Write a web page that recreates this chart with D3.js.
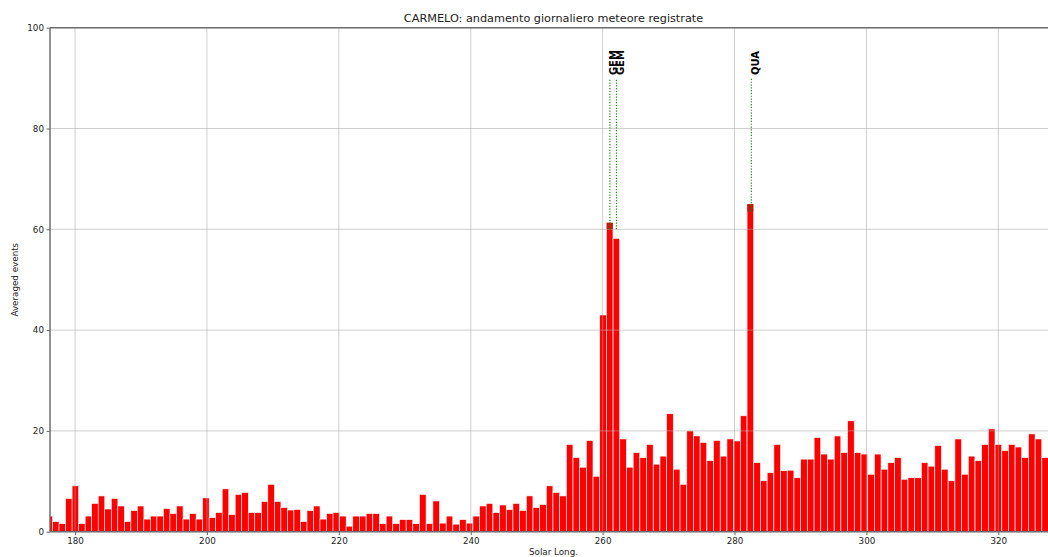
<!DOCTYPE html>
<html>
<head>
<meta charset="utf-8">
<script src="https://cdn.jsdelivr.net/npm/d3@7"></script>
<style>
  body { margin: 0; background: #fff; }
  svg { display: block; font-family: "DejaVu Sans", sans-serif; }
</style>
</head>
<body>
<script>
// Daily solar longitude (deg) of each observation day
const solarLong = [
  176.09, 177.08, 178.07, 179.06, 180.05, 181.04, 182.03, 183.02, 184.01, 185.00,
  185.99, 186.98, 187.97, 188.96, 189.94, 190.93, 191.92, 192.91, 193.90, 194.89,
  195.88, 196.87, 197.86, 198.85, 199.84, 200.83, 201.82, 202.81, 203.80, 204.78,
  205.77, 206.76, 207.75, 208.74, 209.73, 210.72, 211.71, 212.70, 213.69, 214.68,
  215.67, 216.65, 217.64, 218.63, 219.62, 220.61, 221.60, 222.61, 223.62, 224.64,
  225.65, 226.66, 227.67, 228.68, 229.70, 230.71, 231.72, 232.73, 233.75, 234.76,
  235.77, 236.78, 237.79, 238.81, 239.82, 240.83, 241.84, 242.85, 243.87, 244.88,
  245.89, 246.90, 247.91, 248.93, 249.94, 250.95, 251.96, 252.97, 253.99, 255.00,
  256.01, 257.02, 258.04, 259.05, 260.06, 261.07, 262.09, 263.10, 264.12, 265.13,
  266.15, 267.16, 268.18, 269.20, 270.21, 271.23, 272.24, 273.26, 274.27, 275.29,
  276.31, 277.32, 278.34, 279.35, 280.37, 281.38, 282.40, 283.42, 284.43, 285.45,
  286.47, 287.48, 288.50, 289.52, 290.53, 291.55, 292.57, 293.58, 294.60, 295.62,
  296.63, 297.65, 298.67, 299.68, 300.70, 301.72, 302.74, 303.75, 304.77, 305.78,
  306.80, 307.82, 308.83, 309.85, 310.87, 311.88, 312.90, 313.92, 314.93, 315.95,
  316.97, 317.98, 319.00, 320.01, 321.03, 322.04, 323.05, 324.06, 325.08, 326.09,
  327.10
];

// Averaged events per day
const avgEvents = [
  3.1, 2.0, 1.6, 6.6, 9.1, 1.6, 3.1, 5.6, 7.1, 4.5,
  6.6, 5.1, 2.0, 4.2, 5.1, 2.5, 3.1, 3.1, 4.6, 3.6,
  5.1, 2.5, 3.6, 2.5, 6.7, 2.8, 3.8, 8.5, 3.4, 7.4,
  7.8, 3.8, 3.8, 6.0, 9.4, 6.0, 4.8, 4.3, 4.4, 2.0,
  4.2, 5.1, 2.5, 3.6, 3.8, 3.1, 1.1, 3.1, 3.1, 3.6,
  3.6, 1.6, 3.1, 1.6, 2.4, 2.4, 1.6, 7.4, 1.6, 6.1,
  1.7, 3.1, 1.5, 2.4, 1.7, 3.1, 5.1, 5.6, 3.8, 5.3,
  4.4, 5.6, 4.2, 7.1, 4.8, 5.4, 9.1, 7.8, 7.1, 17.3,
  14.7, 12.8, 18.1, 11.0, 43.0, 61.3, 58.2, 18.4, 12.8, 15.7,
  14.7, 17.3, 13.4, 15.0, 23.4, 12.4, 9.4, 20.0, 19.0, 17.7,
  14.1, 18.1, 15.0, 18.4, 18.0, 23.0, 65.0, 13.7, 10.1, 11.7,
  17.3, 12.1, 12.2, 10.7, 14.4, 14.4, 18.7, 15.4, 14.4, 19.0,
  15.7, 22.0, 15.7, 15.4, 11.4, 15.4, 12.4, 13.7, 14.7, 10.4,
  10.7, 10.7, 13.7, 13.0, 17.1, 12.4, 10.1, 18.4, 11.4, 15.0,
  14.1, 17.3, 20.4, 17.3, 16.1, 17.3, 16.8, 14.7, 19.4, 18.4,
  14.7
];

// Meteor shower markers
const showerNames = ["GEM", "GEM", "QUA"];
const showerLong = [261.1, 262.1, 282.55];
const showerLineFrom = [60, 60, 63.5];
const showerLineTo = 90;

const xTicks = [180, 200, 220, 240, 260, 280, 300, 320];
const yTicks = [0, 20, 40, 60, 80, 100];

const W = 1048, H = 557;
const plot = { left: 50, right: 1057, top: 27.7, bottom: 531.7 };

const x = d3.scaleLinear().domain([176.2, 328.9]).range([plot.left, plot.right]);
const y = d3.scaleLinear().domain([0, 100]).range([plot.bottom, plot.top]);

const svg = d3.select("body").append("svg")
  .attr("width", W).attr("height", H);

svg.append("defs").append("clipPath").attr("id", "plotClip")
  .append("rect")
  .attr("x", plot.left).attr("y", plot.top)
  .attr("width", plot.right - plot.left).attr("height", plot.bottom - plot.top);

const days = solarLong.map((l, i) => ({ l, v: avgEvents[i] }));

// Bars
const barLayer = svg.append("g").attr("clip-path", "url(#plotClip)");
barLayer.selectAll("rect.bar").data(days).join("rect")
  .attr("class", "bar")
  .attr("x", d => x(d.l - 0.5))
  .attr("width", d => x(d.l + 0.5) - x(d.l - 0.5))
  .attr("y", d => y(d.v))
  .attr("height", d => y(0) - y(d.v))
  .attr("fill", "#ff0000")
  .attr("stroke", "#ffffff")
  .attr("stroke-width", 0.6);

// Darker portion where a marker line runs over a bar top
const showers = showerNames.map((n, i) => ({
  name: n, l: showerLong[i], from: showerLineFrom[i]
}));
const overlaps = showers.map(s => {
  const d = days.reduce((a, b) => Math.abs(b.l - s.l) < Math.abs(a.l - s.l) ? b : a);
  return { d, from: s.from };
}).filter(o => o.d.v > o.from);
barLayer.selectAll("rect.cap").data(overlaps).join("rect")
  .attr("class", "cap")
  .attr("x", o => x(o.d.l - 0.5) + 0.3)
  .attr("width", o => x(o.d.l + 0.5) - x(o.d.l - 0.5) - 0.6)
  .attr("y", o => y(o.d.v))
  .attr("height", o => y(o.from) - y(o.d.v))
  .attr("fill", "#c4160c");

// Grid
const grid = svg.append("g").attr("stroke", "#a8a8a8").attr("stroke-opacity", 0.55)
  .attr("stroke-width", 1);
grid.selectAll("line.gx").data(xTicks).join("line")
  .attr("x1", d => x(d)).attr("x2", d => x(d))
  .attr("y1", plot.top).attr("y2", plot.bottom);
grid.selectAll("line.gy").data(yTicks).join("line")
  .attr("x1", plot.left).attr("x2", plot.right)
  .attr("y1", d => y(d)).attr("y2", d => y(d));

// Marker lines and labels
const mk = svg.append("g");
mk.selectAll("line").data(showers).join("line")
  .attr("x1", s => x(s.l)).attr("x2", s => x(s.l))
  .attr("y1", s => y(s.from)).attr("y2", y(showerLineTo))
  .attr("stroke", "#1a8a1a").attr("stroke-width", 1.2)
  .attr("stroke-dasharray", "1.2,1.6");
mk.selectAll("text").data(showers).join("text")
  .attr("transform", s => `translate(${x(s.l) + 7.3},${y(showerLineTo) - 3}) rotate(-90)`)
  .attr("font-size", 10)
  .attr("font-weight", 600)
  .attr("fill", "#000")
  .text(s => s.name);

// Axes
const xAxis = d3.axisBottom(x).tickValues(xTicks).tickSize(3.5).tickPadding(2.5)
  .tickFormat(d3.format("d"));
const yAxis = d3.axisLeft(y).tickValues(yTicks).tickSize(3.5).tickPadding(2.5)
  .tickFormat(d3.format("d"));

const gx = svg.append("g").attr("transform", `translate(0,${plot.bottom})`).call(xAxis);
const gy = svg.append("g").attr("transform", `translate(${plot.left},0)`).call(yAxis);
[gx, gy].forEach(g => {
  g.select(".domain").remove();
  g.selectAll(".tick line").attr("stroke", "#666").attr("stroke-width", 1);
  g.selectAll(".tick text").attr("fill", "#222").attr("font-size", 8.75)
    .attr("font-family", "DejaVu Sans, sans-serif");
});

// Spines
const sp = svg.append("g").attr("stroke", "#6e6e6e").attr("stroke-width", 1.5).attr("fill", "none");
sp.append("line").attr("x1", plot.left).attr("x2", plot.left).attr("y1", plot.top).attr("y2", plot.bottom);
sp.append("line").attr("x1", plot.left).attr("x2", plot.right).attr("y1", plot.top).attr("y2", plot.top);
sp.append("line").attr("x1", plot.left).attr("x2", plot.right).attr("y1", plot.bottom).attr("y2", plot.bottom);

// Titles
const cx = (plot.left + plot.right) / 2;
svg.append("text")
  .attr("x", cx).attr("y", 21.5)
  .attr("text-anchor", "middle")
  .attr("font-size", 11.25).attr("fill", "#222")
  .text("CARMELO: andamento giornaliero meteore registrate");

svg.append("text")
  .attr("x", cx).attr("y", 554.5)
  .attr("text-anchor", "middle")
  .attr("font-size", 8.75).attr("fill", "#222")
  .text("Solar Long.");

svg.append("text")
  .attr("transform", `translate(18,${(plot.top + plot.bottom) / 2}) rotate(-90)`)
  .attr("text-anchor", "middle")
  .attr("font-size", 8.75).attr("fill", "#222")
  .text("Averaged events");
</script>
</body>
</html>
